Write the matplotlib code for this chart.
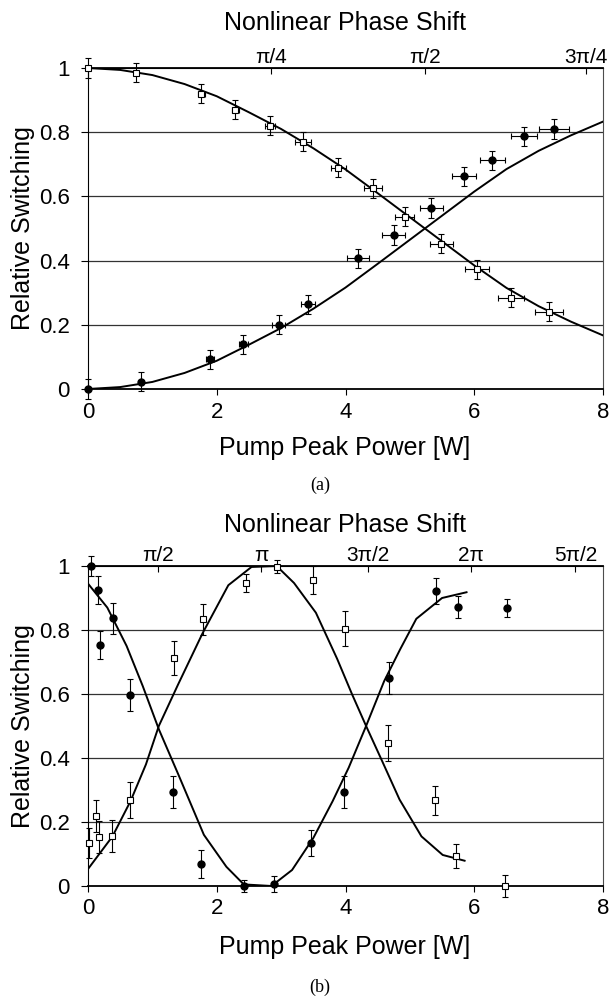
import matplotlib
matplotlib.use("Agg")
import matplotlib.pyplot as plt

plt.rcParams['font.family'] = ['Liberation Sans', 'DejaVu Sans']

# ---------------- panel (a) data ----------------
a_sq_x = [0.0, 0.75, 1.76, 2.29, 2.83, 3.34, 3.89, 4.42, 4.92, 5.49, 6.04, 6.57, 7.16]
a_sq_y = [1.0, 0.985, 0.92, 0.87, 0.82, 0.77, 0.69, 0.625, 0.537, 0.453, 0.373, 0.284, 0.241]
a_sq_xerr = [0.0, 0.02, 0.05, 0.06, 0.08, 0.12, 0.11, 0.14, 0.15, 0.18, 0.19, 0.2, 0.22]
a_sq_yerr = [0.03] * 13

a_ci_x = [0.0, 0.83, 1.90, 2.41, 2.96, 3.42, 4.20, 4.75, 5.33, 5.84, 6.28, 6.77, 7.24]
a_ci_y = [0.0, 0.023, 0.093, 0.139, 0.2, 0.264, 0.407, 0.48, 0.564, 0.662, 0.712, 0.787, 0.81]
a_ci_xerr = [0.0, 0.025, 0.06, 0.07, 0.1, 0.11, 0.17, 0.18, 0.18, 0.19, 0.19, 0.2, 0.23]
a_ci_yerr = [0.03] * 13

a_fit_x = [0, 0.5, 1, 1.5, 2, 2.5, 3, 3.5, 4, 4.5, 5, 5.5, 6, 6.5, 7, 7.5, 8]
a_fit_sq = [1.0, 0.994, 0.978, 0.950, 0.912, 0.862, 0.81, 0.75, 0.684, 0.61,
            0.535, 0.46, 0.385, 0.315, 0.258, 0.21, 0.167]
a_fit_ci = [0.0, 0.006, 0.022, 0.050, 0.088, 0.138, 0.19, 0.25, 0.316, 0.39,
            0.465, 0.54, 0.615, 0.685, 0.742, 0.79, 0.833]

a_phase_pos = [2.84, 5.24, 7.74]
a_phase_lbl = ['π/4', 'π/2', '3π/4']

# ---------------- panel (b) data ----------------
b_ci_x = [0.04, 0.16, 0.18, 0.39, 0.66, 1.32, 1.75, 2.42, 2.89, 3.47, 3.98, 4.67, 5.41, 5.74, 6.51]
b_ci_y = [1.0, 0.924, 0.752, 0.837, 0.597, 0.295, 0.07, 0.0, 0.005, 0.135, 0.295, 0.65, 0.921, 0.872, 0.868]
b_ci_yerr = [0.03, 0.044, 0.044, 0.048, 0.05, 0.05, 0.044, 0.02, 0.025, 0.04, 0.05, 0.05, 0.04, 0.033, 0.028]

b_sq_x = [0.01, 0.13, 0.17, 0.38, 0.66, 1.34, 1.78, 2.45, 2.93, 3.49, 3.99, 4.66, 5.39, 5.71, 6.48]
b_sq_y = [0.135, 0.22, 0.153, 0.155, 0.268, 0.712, 0.833, 0.947, 0.998, 0.956, 0.804, 0.447, 0.268, 0.094, 0.0]
b_sq_yerr = [0.047, 0.05, 0.05, 0.05, 0.056, 0.054, 0.048, 0.027, 0.02, 0.045, 0.055, 0.055, 0.045, 0.037, 0.033]

b_fit_ci_x = [0, 0.3, 0.6, 0.85, 1.1, 1.4, 1.8, 2.15, 2.42, 2.85, 3.17, 3.5, 3.8,
              4.05, 4.32, 4.6, 4.85, 5.1, 5.5, 5.88]
b_fit_ci_y = [0.945, 0.87, 0.75, 0.625, 0.49, 0.35, 0.16, 0.06, 0.005, 0.0, 0.05, 0.15,
              0.265, 0.37, 0.5, 0.64, 0.74, 0.835, 0.9, 0.918]
b_fit_sq_x = [0, 0.38, 0.66, 0.9, 1.1, 1.4, 1.78, 2.18, 2.54, 2.93, 3.2, 3.54, 3.87,
              4.1, 4.32, 4.57, 4.84, 5.18, 5.51, 5.85]
b_fit_sq_y = [0.053, 0.155, 0.265, 0.38, 0.5, 0.63, 0.79, 0.94, 0.997, 1.0, 0.947, 0.854,
              0.71, 0.6, 0.5, 0.39, 0.27, 0.155, 0.097, 0.079]

b_phase_pos = [1.09, 2.69, 4.35, 5.95, 7.57]
b_phase_lbl = ['π/2', 'π', '3π/2', '2π', '5π/2']

W, H = 610, 996
fig = plt.figure(figsize=(W / 100, H / 100), dpi=100)


def style_axes(ax, phase_pos, phase_lbl):
    ax.set_xlim(0, 8)
    ax.set_ylim(0, 1)
    ax.set_xticks([0, 2, 4, 6, 8])
    ax.set_xticklabels(['0', '2', '4', '6', '8'])
    ax.set_yticks([0, 0.2, 0.4, 0.6, 0.8, 1])
    ax.set_yticklabels(['0', '0.2', '0.4', '0.6', '0.8', '1'])
    ax.tick_params(axis='x', direction='out', length=4, width=0.8, labelsize=16, pad=5)
    ax.tick_params(axis='y', direction='out', length=5, width=0.8, labelsize=16, pad=8)
    for yv in [0.2, 0.4, 0.6, 0.8]:
        ax.axhline(yv, color='0.2', lw=0.9, zorder=1)
    for side in ['top', 'bottom']:
        ax.spines[side].set_linewidth(1.3)
    for side in ['left', 'right']:
        ax.spines[side].set_linewidth(0.8)
    ax.spines['right'].set_color('0.3')
    sec = ax.secondary_xaxis('top')
    sec.set_xticks(phase_pos)
    sec.set_xticklabels(phase_lbl)
    sec.tick_params(direction='in', length=4, width=0.8, labelsize=15, pad=1)


eb = dict(ecolor='k', elinewidth=0.8, capsize=2.2, capthick=0.8,
          ls='none', zorder=4, clip_on=False)

# ---------------- panel (a) ----------------
ax1 = fig.add_axes([88 / W, 1 - 389 / H, 515 / W, 321 / H])
ax1.plot(a_fit_x, a_fit_sq, color='k', lw=1.4, zorder=3)
ax1.plot(a_fit_x, a_fit_ci, color='k', lw=1.4, zorder=3)
ax1.errorbar(a_sq_x, a_sq_y, yerr=a_sq_yerr, xerr=a_sq_xerr, marker='s', ms=4.2,
             mfc='white', mec='k', mew=0.8, **eb)
ax1.errorbar(a_ci_x, a_ci_y, yerr=a_ci_yerr, xerr=a_ci_xerr, marker='o', ms=5,
             mfc='k', mec='k', **eb)
style_axes(ax1, a_phase_pos, a_phase_lbl)

# ---------------- panel (b) ----------------
ax2 = fig.add_axes([88 / W, 1 - 886 / H, 515 / W, 320 / H])
ax2.plot(b_fit_ci_x, b_fit_ci_y, color='k', lw=1.4, zorder=3)
ax2.plot(b_fit_sq_x, b_fit_sq_y, color='k', lw=1.4, zorder=3)
ax2.errorbar(b_sq_x, b_sq_y, yerr=b_sq_yerr, marker='s', ms=4.2,
             mfc='white', mec='k', mew=0.8, **eb)
ax2.errorbar(b_ci_x, b_ci_y, yerr=b_ci_yerr, marker='o', ms=5,
             mfc='k', mec='k', **eb)
style_axes(ax2, b_phase_pos, b_phase_lbl)

# titles, labels, captions
for yt, yl, ym, cap, yc in [(23, 448, 228.5, '(a)', 485),
                            (525, 947, 726, '(b)', 987)]:
    fig.text(345 / W, 1 - yt / H, 'Nonlinear Phase Shift', ha='center', va='center', fontsize=18)
    fig.text(345 / W, 1 - yl / H, 'Pump Peak Power [W]', ha='center', va='center', fontsize=18)
    fig.text(23 / W, 1 - ym / H, 'Relative Switching', ha='center', va='center',
             rotation=90, fontsize=18)
    fig.text(320 / W, 1 - yc / H, cap, ha='center', va='center', fontsize=13,
             family=['Liberation Serif', 'DejaVu Serif'])

fig.savefig('out.png', dpi=100)
